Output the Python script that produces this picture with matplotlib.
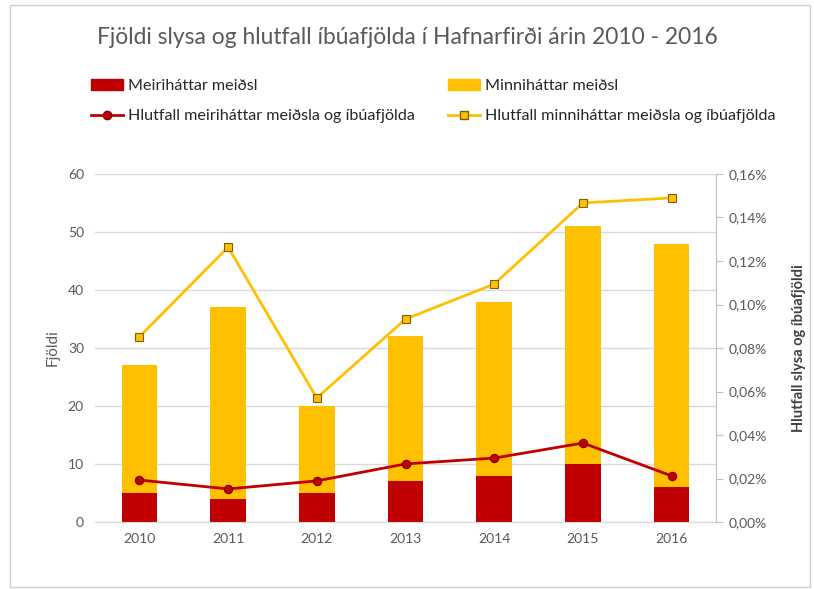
import matplotlib
matplotlib.use("Agg")
import matplotlib.pyplot as plt
from matplotlib.ticker import FuncFormatter
from matplotlib.lines import Line2D
from matplotlib.patches import Patch, Rectangle

years = ["2010", "2011", "2012", "2013", "2014", "2015", "2016"]
major = [5, 4, 5, 7, 8, 10, 6]
minor = [22, 33, 15, 25, 30, 41, 42]
ratio_major = [0.0193, 0.0152, 0.0189, 0.0267, 0.0294, 0.0363, 0.0212]
ratio_minor = [0.0851, 0.1264, 0.0570, 0.0933, 0.1094, 0.1467, 0.1490]

RED = "#C00000"
YEL = "#FFC000"
GRID = "#D9D9D9"
TXT = "#595959"

plt.rcParams['font.family'] = ['Lato', 'DejaVu Sans']

fig = plt.figure(figsize=(8.14, 5.89), dpi=100)
fig.patches.append(Rectangle((10/814, 2/589), 800/814, 582/589, transform=fig.transFigure,
                             fill=False, edgecolor="#D0D0D0", linewidth=1))
ax = fig.add_axes([95/814, 1 - 522/589, (716 - 95)/814, (522 - 174)/589])
x = list(range(len(years)))
ax.bar(x, major, width=0.4, color=RED, zorder=2)
ax.bar(x, minor, width=0.4, bottom=major, color=YEL, zorder=2)
ax.set_ylim(0, 60)
ax.set_yticks(range(0, 61, 10))
ax.set_xlim(-0.5, len(years) - 0.5)
ax.set_xticks(x)
ax.set_xticklabels(years)
ax.grid(axis='y', color=GRID, linewidth=1, zorder=0)
ax.set_axisbelow(True)
for s in ["top", "left", "right"]:
    ax.spines[s].set_visible(False)
ax.spines["bottom"].set_color(GRID)
ax.tick_params(axis='both', length=0, colors=TXT, labelsize=10, pad=8)
ax.set_ylabel("Fjöldi", color=TXT, fontsize=11, labelpad=6)

ax2 = ax.twinx()
ax2.plot(x, ratio_major, color=RED, linewidth=2, marker='o', markersize=6,
         markerfacecolor=RED, markeredgecolor="#7F0000", markeredgewidth=0.8, zorder=3)
ax2.plot(x, ratio_minor, color=YEL, linewidth=2, marker='s', markersize=6,
         markerfacecolor=YEL, markeredgecolor="#7F6000", markeredgewidth=0.8, zorder=3)
ax2.set_ylim(0, 0.16)
ax2.set_yticks([i * 0.02 for i in range(9)])
ax2.yaxis.set_major_formatter(FuncFormatter(lambda v, p: f"{v:.2f}%".replace('.', ',')))
for s in ["top", "left", "bottom"]:
    ax2.spines[s].set_visible(False)
ax2.spines["right"].set_color("#BFBFBF")
ax2.tick_params(axis='y', length=5, color="#BFBFBF", colors=TXT, labelsize=10, pad=4)
ax2.set_ylabel("Hlutfall slysa og íbúafjöldi", color="#404040", fontsize=10.5,
               rotation=90, labelpad=18, fontweight='bold')

fig.text(0.5, 1 - 38/589, "Fjöldi slysa og hlutfall íbúafjölda í Hafnarfirði árin 2010 - 2016",
         ha='center', va='center', fontsize=16.4, color="#595959")

handles = [Patch(color=RED),
           Line2D([], [], color=RED, linewidth=2, marker='o', markersize=6,
                  markerfacecolor=RED, markeredgecolor="#7F0000"),
           Patch(color=YEL),
           Line2D([], [], color=YEL, linewidth=2, marker='s', markersize=6,
                  markerfacecolor=YEL, markeredgecolor="#7F6000")]
labels = ["Meiriháttar meiðsl", "Hlutfall meiriháttar meiðsla og íbúafjölda",
          "Minniháttar meiðsl", "Hlutfall minniháttar meiðsla og íbúafjölda"]
fig.legend(handles, labels, ncol=2, loc='upper left', bbox_to_anchor=(76/814, 1 - 64/589),
           frameon=False, fontsize=11.6, handlelength=2.0, handletextpad=0.3,
           columnspacing=2.1, labelspacing=1.0, labelcolor="#262626")

fig.savefig("out.png", dpi=100)
